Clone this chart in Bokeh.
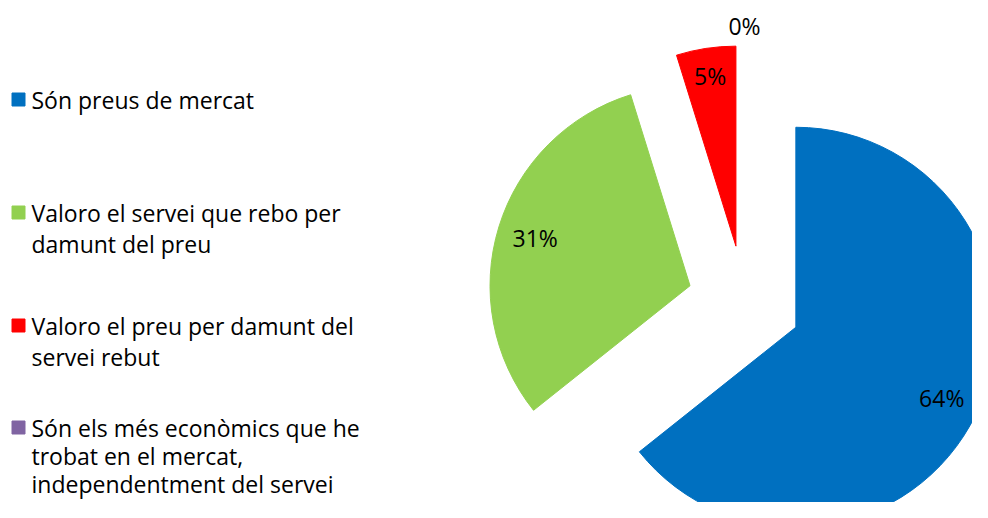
import math
from bokeh.plotting import figure
from bokeh.models import Range1d, ColumnDataSource
from bokeh.core.properties import value
from bokeh.embed import file_html
from bokeh.resources import INLINE

# ---- data ----
categories = [
    "Són preus de mercat",
    "Valoro el servei que rebo per damunt del preu",
    "Valoro el preu per damunt del servei rebut",
    "Són els més econòmics que he trobat en el mercat, independentment del servei",
]
legend_lines = [
    ["Són preus de mercat"],
    ["Valoro el servei que rebo per", "damunt del preu"],
    ["Valoro el preu per damunt del", "servei rebut"],
    ["Són els més econòmics que he", "trobat en el mercat,", "independentment del servei"],
]
values = [64.3, 30.9, 4.8, 0.0]
colors = ["#0070C0", "#92D050", "#FF0000", "#8064A2"]

# ---- layout ----
W, H = 972, 502
FONT = "Open Sans"
FS = "23px"

p = figure(width=W, height=H, x_range=Range1d(1, 1 + W), y_range=Range1d(517 - H, 517),
           output_backend="svg", toolbar_location=None, min_border=0)
p.axis.visible = False
p.grid.visible = False
p.outline_line_color = None
p.background_fill_color = "white"

def sy(y):  # top-down pixel position -> data y
    return 518 - y

cx, cy = 745, sy(303)
R = 200
EXPLODE = 57

total = sum(values)
theta = 0.0
wx, wy, sa, ea, wc = [], [], [], [], []
lx, ly, lt = [], [], []
for v, c in zip(values, colors):
    frac = v / total
    t1 = theta
    t2 = theta + frac * 2 * math.pi
    mid = (t1 + t2) / 2
    ox = cx + EXPLODE * math.sin(mid)
    oy = cy + EXPLODE * math.cos(mid)
    if v > 0:
        wx.append(ox); wy.append(oy)
        sa.append(math.pi / 2 - t1); ea.append(math.pi / 2 - t2)
        wc.append(c)
    d = (0.86 if frac < 0.1 else 0.81) * R if v > 0 else 1.1 * R
    lx.append(ox + d * math.sin(mid))
    ly.append(oy + d * math.cos(mid))
    lt.append(f"{round(v)}%")
    theta = t2

p.wedge(x="x", y="y", radius=R, start_angle="sa", end_angle="ea", direction="clock",
        color="c", source=ColumnDataSource(dict(x=wx, y=wy, sa=sa, ea=ea, c=wc)))

p.text(x="x", y="y", text="t", source=ColumnDataSource(dict(x=lx, y=ly, t=lt)),
       text_font=value(FONT), text_font_size=FS, text_color="#000000",
       text_align="center", text_baseline="middle")

# ---- legend ----
row_y = [100, 213, 326, 428]
sq_x, sq_y, sq_c = [], [], []
tx, ty, tt = [], [], []
for k, (yy, lines, c) in enumerate(zip(row_y, legend_lines, colors)):
    step = 31 if k < 3 else 28
    sq_x.append(19); sq_y.append(sy(yy)); sq_c.append(c)
    for i, line in enumerate(lines):
        tx.append(32); ty.append(sy(yy + i * step)); tt.append(line)

p.rect(x="x", y="y", width=13, height=13, color="c",
       source=ColumnDataSource(dict(x=sq_x, y=sq_y, c=sq_c)))
p.text(x="x", y="y", text="t", source=ColumnDataSource(dict(x=tx, y=ty, t=tt)),
       text_font=value(FONT), text_font_size=FS, text_color="#000000",
       text_align="left", text_baseline="middle")

open("out.html", "w").write(file_html(p, INLINE))
